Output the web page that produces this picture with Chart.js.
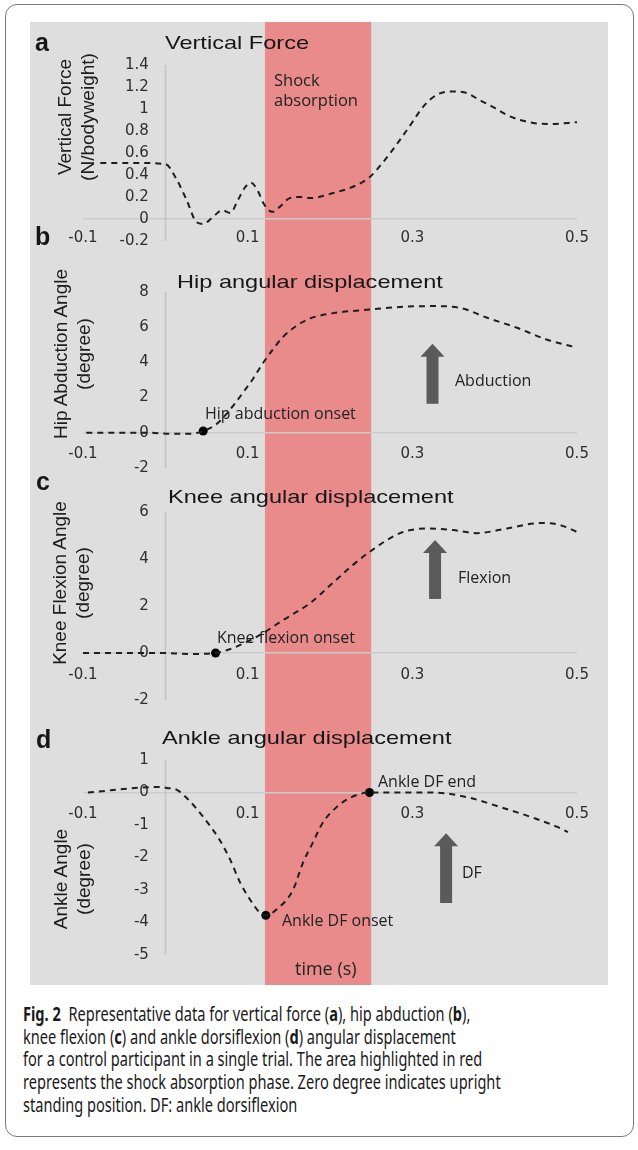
<!DOCTYPE html>
<html>
<head>
<meta charset="utf-8">
<title>Fig. 2</title>
<script src="https://cdn.jsdelivr.net/npm/chart.js@4/dist/chart.umd.min.js"></script>
<style>
    html, body { margin: 0; padding: 0; background: #fff; }
    #page { position: relative; width: 638px; height: 1150px; overflow: hidden; }
    #frame { position: absolute; left: 5px; top: 4px; width: 627px; height: 1131px; border: 1px solid #7a7a7a; border-radius: 12px; }
    #panel { position: absolute; left: 30px; top: 22px; width: 578px; height: 963px; background: #dedede; }
    canvas { position: absolute; left: 30px; z-index: 1; }
    .t { position: absolute; white-space: nowrap; z-index: 2; color: #161616; transform: translateY(-50%); }
    .ttl { font: 19px "Liberation Sans", Arial, sans-serif; transform: translateY(-50%) scaleX(1.24); transform-origin: left center; }
    .let { font: bold 25px "Liberation Sans", Arial, sans-serif; }
    .ann { font: 16px "Open Sans", sans-serif; color: #222; }
    .yt { position: absolute; z-index: 2; white-space: nowrap; text-align: center; color: #1c1c1c;
          font: 19px/23px "Liberation Sans", Arial, sans-serif; transform: translate(-50%, -50%) rotate(-90deg); }
    .cl { position: absolute; left: 23px; white-space: nowrap; font: 19.5px/23px "Noto Sans", sans-serif; color: #1a1a1a; transform-origin: left center; }
</style>
</head>
<body>
<div id="page">
    <div id="frame"></div>
    <div id="panel"></div>

    <canvas id="cA" width="578" height="228" style="top:22px"></canvas>
    <canvas id="cB" width="578" height="230" style="top:250px"></canvas>
    <canvas id="cC" width="578" height="240" style="top:480px"></canvas>
    <canvas id="cD" width="578" height="265" style="top:720px"></canvas>

    <!-- 面板字母和标题 -->
    <div class="t let" style="left:35px;top:42px">a</div>
    <div class="t let" style="left:35px;top:236px">b</div>
    <div class="t let" style="left:36px;top:481px">c</div>
    <div class="t let" style="left:36px;top:739px">d</div>
    <div class="t ttl" style="left:165px;top:43px">Vertical Force</div>
    <div class="t ttl" style="left:177px;top:282px">Hip angular displacement</div>
    <div class="t ttl" style="left:168px;top:497px">Knee angular displacement</div>
    <div class="t ttl" style="left:162px;top:738px">Ankle angular displacement</div>

    <!-- y 轴标题 -->
    <div class="yt" style="left:76px;top:117px">Vertical Force<br>(N/bodyweight)</div>
    <div class="yt" style="left:72px;top:354px">Hip Abduction Angle<br>(degree)</div>
    <div class="yt" style="left:71px;top:583px">Knee Flexion Angle<br>(degree)</div>
    <div class="yt" style="left:72px;top:879px">Ankle Angle<br>(degree)</div>

    <!-- 注释 -->
    <div class="t ann" style="left:274px;top:90px;line-height:20px;font-size:16.5px">Shock<br>absorption</div>
    <div class="t ann" style="left:205px;top:413px">Hip abduction onset</div>
    <div class="t ann" style="left:455px;top:380px">Abduction</div>
    <div class="t ann" style="left:217px;top:637px">Knee flexion onset</div>
    <div class="t ann" style="left:458px;top:577px">Flexion</div>
    <div class="t ann" style="left:378px;top:781px">Ankle DF end</div>
    <div class="t ann" style="left:282px;top:920px">Ankle DF onset</div>
    <div class="t ann" style="left:462px;top:872px">DF</div>
    <div class="t ann" style="left:295px;top:968px;font-size:18px">time (s)</div>

    <!-- 图注 -->
    <div class="cl" style="top:1002px"><b>Fig. 2</b>&nbsp; Representative data for vertical force (<b>a</b>), hip abduction (<b>b</b>),</div>
    <div class="cl" style="top:1025px">knee flexion (<b>c</b>) and ankle dorsiflexion (<b>d</b>) angular displacement</div>
    <div class="cl" style="top:1047px">for a control participant in a single trial. The area highlighted in red</div>
    <div class="cl" id="capRef" style="top:1070px">represents the shock absorption phase. Zero degree indicates upright</div>
    <div class="cl" style="top:1093px">standing position. DF: ankle dorsiflexion</div>
</div>

<script>
    // 时间轴 (s)
    const xTicks = [-0.1, 0.1, 0.3, 0.5];
    const shockPhase = [0.121, 0.25];

    // a 垂直力
    const forceTicks = [-0.2, 0, 0.2, 0.4, 0.6, 0.8, 1, 1.2, 1.4];
    const forceTime = [-0.079, -0.04, 0, 0.014, 0.026, 0.038, 0.046, 0.058, 0.069, 0.079, 0.088, 0.097, 0.104, 0.113, 0.119, 0.13, 0.139, 0.151, 0.164, 0.176, 0.204, 0.23, 0.248, 0.267, 0.285, 0.3, 0.313, 0.33, 0.349, 0.366, 0.382, 0.4, 0.415, 0.431, 0.447, 0.467, 0.5];
    const forceVal = [0.51, 0.51, 0.5, 0.355, 0.17, -0.03, -0.045, 0.02, 0.08, 0.055, 0.17, 0.29, 0.33, 0.245, 0.145, 0.065, 0.11, 0.19, 0.2, 0.19, 0.236, 0.3, 0.38, 0.54, 0.72, 0.88, 1.02, 1.13, 1.16, 1.145, 1.08, 1.01, 0.945, 0.9, 0.873, 0.864, 0.88];

    // b 髋外展
    const hipTicks = [-2, 0, 2, 4, 6, 8];
    const hipTime = [-0.096, -0.02, 0.006, 0.03, 0.046, 0.061, 0.073, 0.085, 0.097, 0.107, 0.117, 0.13, 0.143, 0.16, 0.176, 0.204, 0.248, 0.285, 0.325, 0.358, 0.39, 0.427, 0.463, 0.495];
    const hipVal = [0, 0, -0.06, -0.06, 0.1, 0.45, 1.0, 1.7, 2.45, 3.1, 3.85, 4.7, 5.45, 6.1, 6.5, 6.8, 7.0, 7.15, 7.2, 7.1, 6.55, 5.97, 5.3, 4.9];
    const hipEvents = [[0.046, 0.1]];

    // c 膝屈曲
    const kneeTicks = [-2, 0, 2, 4, 6];
    const kneeTime = [-0.1, -0.006, 0.03, 0.061, 0.082, 0.115, 0.143, 0.176, 0.204, 0.228, 0.248, 0.285, 0.318, 0.35, 0.378, 0.415, 0.455, 0.479, 0.5];
    const kneeVal = [0, 0, -0.04, 0, 0.21, 0.77, 1.4, 2.13, 3.0, 3.75, 4.3, 5.1, 5.3, 5.23, 5.1, 5.3, 5.53, 5.45, 5.15];
    const kneeEvents = [[0.061, 0]];

    // d 踝关节
    const ankleTicks = [-5, -4, -3, -2, -1, 0, 1];
    const ankleTime = [-0.094, -0.01, 0.002, 0.014, 0.026, 0.046, 0.066, 0.079, 0.091, 0.103, 0.115, 0.122, 0.135, 0.155, 0.167, 0.179, 0.191, 0.208, 0.224, 0.24, 0.248, 0.285, 0.325, 0.366, 0.407, 0.447, 0.476, 0.489];
    const ankleVal = [0, 0.17, 0.14, 0.08, -0.17, -0.75, -1.46, -2.08, -2.78, -3.3, -3.7, -3.78, -3.6, -3.0, -2.17, -1.55, -0.94, -0.45, -0.17, -0.02, 0, 0, 0, -0.14, -0.45, -0.78, -1.06, -1.22];
    const ankleEvents = [[0.122, -3.78], [0.248, 0]];

    const panels = [
        {id: 'cA', padTop: 43, padBottom: 9, yMin: -0.2, yMax: 1.4, yTicks: forceTicks, xAxisAt: -0.093,
            time: forceTime, vals: forceVal, events: [], arrow: null},
        {id: 'cB', padTop: 42, padBottom: 12, yMin: -2, yMax: 8, yTicks: hipTicks, xAxisAt: -0.69,
            time: hipTime, vals: hipVal, events: hipEvents, arrow: {x: 0.3245, from: 1.65, to: 5.06}},
        {id: 'cC', padTop: 32, padBottom: 20, yMin: -2, yMax: 6, yTicks: kneeTicks, xAxisAt: -0.56,
            time: kneeTime, vals: kneeVal, events: kneeEvents, arrow: {x: 0.3276, from: 2.3, to: 4.81}},
        {id: 'cD', padTop: 40, padBottom: 30, yMin: -5, yMax: 1, yTicks: ankleTicks, xAxisAt: -0.39,
            time: ankleTime, vals: ankleVal, events: ankleEvents, arrow: {x: 0.341, from: -3.4, to: -1.25}}
    ];

    Chart.defaults.font.family = 'DejaVu Sans';

    //红色缓冲期 + y轴竖线
    const shockBand = {
        id: 'shockBand',
        beforeDraw(chart) {
            const {ctx, scales: {x}} = chart;
            const x0 = x.getPixelForValue(shockPhase[0]);
            const x1 = x.getPixelForValue(shockPhase[1]);
            ctx.save();
            ctx.fillStyle = '#ea8b8b';
            ctx.fillRect(x0, 0, x1 - x0, chart.height);
            ctx.restore();
        },
        beforeDatasetsDraw(chart) {
            const {ctx, scales: {x, y}} = chart;
            const px = Math.round(x.getPixelForValue(0)) + 0.5;
            ctx.save();
            ctx.strokeStyle = '#c3c3c3';
            ctx.lineWidth = 1.5;
            ctx.beginPath();
            ctx.moveTo(px, y.getPixelForValue(y.max));
            ctx.lineTo(px, y.getPixelForValue(y.min));
            ctx.stroke();
            ctx.restore();
        }
    };

    //方向箭头
    function arrowPlugin(arrow) {
        return {
            id: 'dirArrow',
            afterDatasetsDraw(chart) {
                if (!arrow) return;
                const {ctx, scales: {x, y}} = chart;
                const cx = x.getPixelForValue(arrow.x);
                const yTail = y.getPixelForValue(arrow.from);
                const yTip = y.getPixelForValue(arrow.to);
                ctx.save();
                ctx.fillStyle = '#5a5a5a';
                ctx.fillRect(cx - 6, yTip + 12, 12, yTail - yTip - 12);
                ctx.beginPath();
                ctx.moveTo(cx, yTip);
                ctx.lineTo(cx + 12, yTip + 13);
                ctx.lineTo(cx - 12, yTip + 13);
                ctx.closePath();
                ctx.fill();
                ctx.restore();
            }
        };
    }

    function noPad(scale) {
        scale.paddingLeft = 0;
        scale.paddingRight = 0;
        scale.paddingTop = 0;
        scale.paddingBottom = 0;
    }

    function drawPanel(p) {
        let points = p.time.map(function (t, i) { return {x: t, y: p.vals[i]}; });
        let marks = p.events.map(function (e) { return {x: e[0], y: e[1]}; });
        let ctx = document.getElementById(p.id).getContext('2d');
        return new Chart(ctx, {
            type: 'line',
            data: {
                datasets: [{
                    data: points,
                    borderColor: '#1e1e1e',
                    borderWidth: 2,
                    borderDash: [6, 5],
                    pointRadius: 0,
                    cubicInterpolationMode: 'monotone',
                    fill: false
                }, {
                    data: marks,
                    showLine: false,
                    pointRadius: 4.5,
                    pointBackgroundColor: '#000',
                    pointBorderWidth: 0
                }]
            },
            options: {
                responsive: false,
                animation: false,
                devicePixelRatio: 1,
                layout: {autoPadding: false, padding: {left: 53, right: 31, top: p.padTop, bottom: p.padBottom}},
                plugins: {legend: {display: false}, tooltip: {enabled: false}},
                scales: {
                    x: {
                        type: 'linear',
                        min: -0.1,
                        max: 0.5,
                        position: {y: p.xAxisAt},
                        afterBuildTicks: function (s) { s.ticks = xTicks.map(function (v) { return {value: v}; }); },
                        afterFit: noPad,
                        grid: {display: false, drawTicks: false},
                        border: {display: false},
                        ticks: {padding: 0, color: '#2e2e2e', font: {size: 15}, maxRotation: 0, callback: function (v) { return String(v); }}
                    },
                    y: {
                        type: 'linear',
                        min: p.yMin,
                        max: p.yMax,
                        position: {x: -0.02},
                        afterBuildTicks: function (s) { s.ticks = p.yTicks.map(function (v) { return {value: v}; }); },
                        afterFit: noPad,
                        grid: {
                            drawTicks: false,
                            lineWidth: 1.5,
                            color: function (c) { return c.tick && c.tick.value === 0 ? '#cbcbcb' : 'rgba(0,0,0,0)'; }
                        },
                        border: {display: false},
                        ticks: {padding: 0, color: '#2e2e2e', font: {size: 15}, callback: function (v) { return String(v); }}
                    }
                }
            },
            plugins: [shockBand, arrowPlugin(p.arrow)]
        });
    }

    panels.forEach(drawPanel);

    // 图注横向压缩以贴合原图宽度
    let capLines = document.querySelectorAll('.cl');
    let k = 478 / document.getElementById('capRef').offsetWidth;
    capLines.forEach(function (el) { el.style.transform = 'scaleX(' + k + ')'; });
</script>
</body>
</html>
